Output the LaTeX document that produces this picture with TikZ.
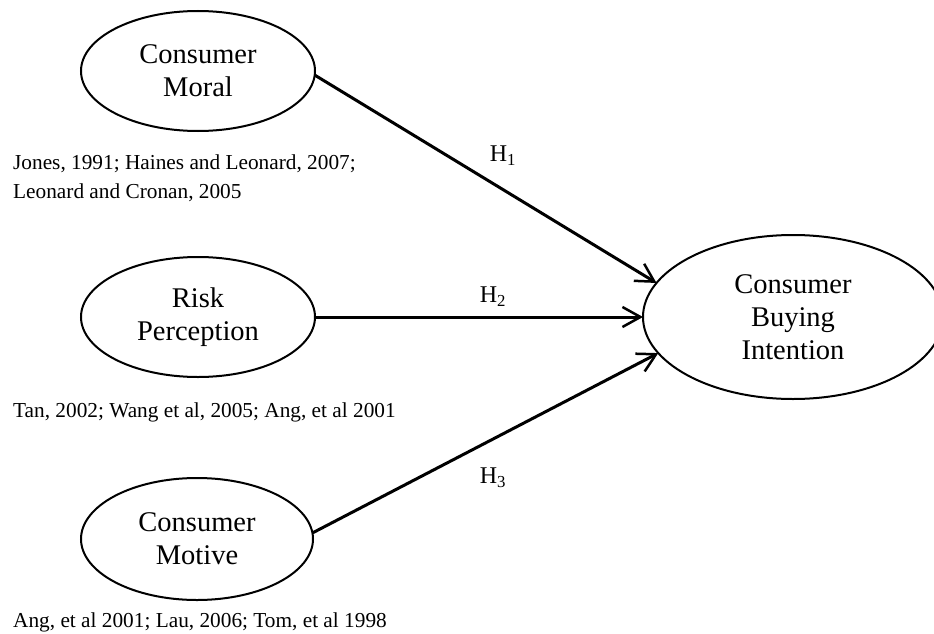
\documentclass[tikz,border=0pt]{standalone}
\usepackage{fontspec}
\setmainfont{Liberation Serif}
\usetikzlibrary{shapes.geometric,arrows.meta}
\begin{document}
\begin{tikzpicture}[x=1pt,y=-1pt,
  construct/.style={ellipse,draw,line width=2pt,inner sep=0pt,outer sep=0pt,align=center,
    font=\fontsize{28.5}{33}\selectfont},
  hyparrow/.style={line width=3pt,-{Straight Barb[length=18pt,width=20pt,line width=2.5pt]}},
  hlabel/.style={font=\fontsize{24}{28}\selectfont,inner sep=0pt},
  citetext/.style={anchor=west,align=left,inner sep=0pt,font=\fontsize{21.3}{29}\selectfont}]
\clip (0,0) rectangle (934,634);
\fill[white] (0,0) rectangle (934,634);

\node[construct,minimum width=234pt,minimum height=120pt] (moral) at (198,71) {Consumer\\Moral};
\node[construct,minimum width=234pt,minimum height=120pt] (risk) at (198,317) {Risk\\Perception};
\node[construct,minimum width=232pt,minimum height=122pt] (motive) at (197,539) {Consumer\\Motive};
\node[construct,minimum width=300pt,minimum height=164pt] (buy) at (793,317) {Consumer\\Buying\\Intention};

\draw[hyparrow] (moral.-2) -- (buy.166);
\draw[hyparrow] (risk.east) -- (buy.west);
\draw[hyparrow] (motive.3) -- (buy.195);

\node[hlabel] (h1) at (503,156) {H\textsubscript{1}};
\node[hlabel] (h2) at (493,297) {H\textsubscript{2}};
\node[hlabel] (h3) at (493,478) {H\textsubscript{3}};

\node[citetext] (c1) at (13,178.5) {Jones, 1991; Haines and Leonard, 2007;\\Leonard and Cronan, 2005};
\node[citetext] (c2) at (13,412) {Tan, 2002; Wang et al, 2005; Ang, et al 2001};
\node[citetext] (c3) at (13,622) {Ang, et al 2001; Lau, 2006; Tom, et al 1998};
\end{tikzpicture}
\end{document}
